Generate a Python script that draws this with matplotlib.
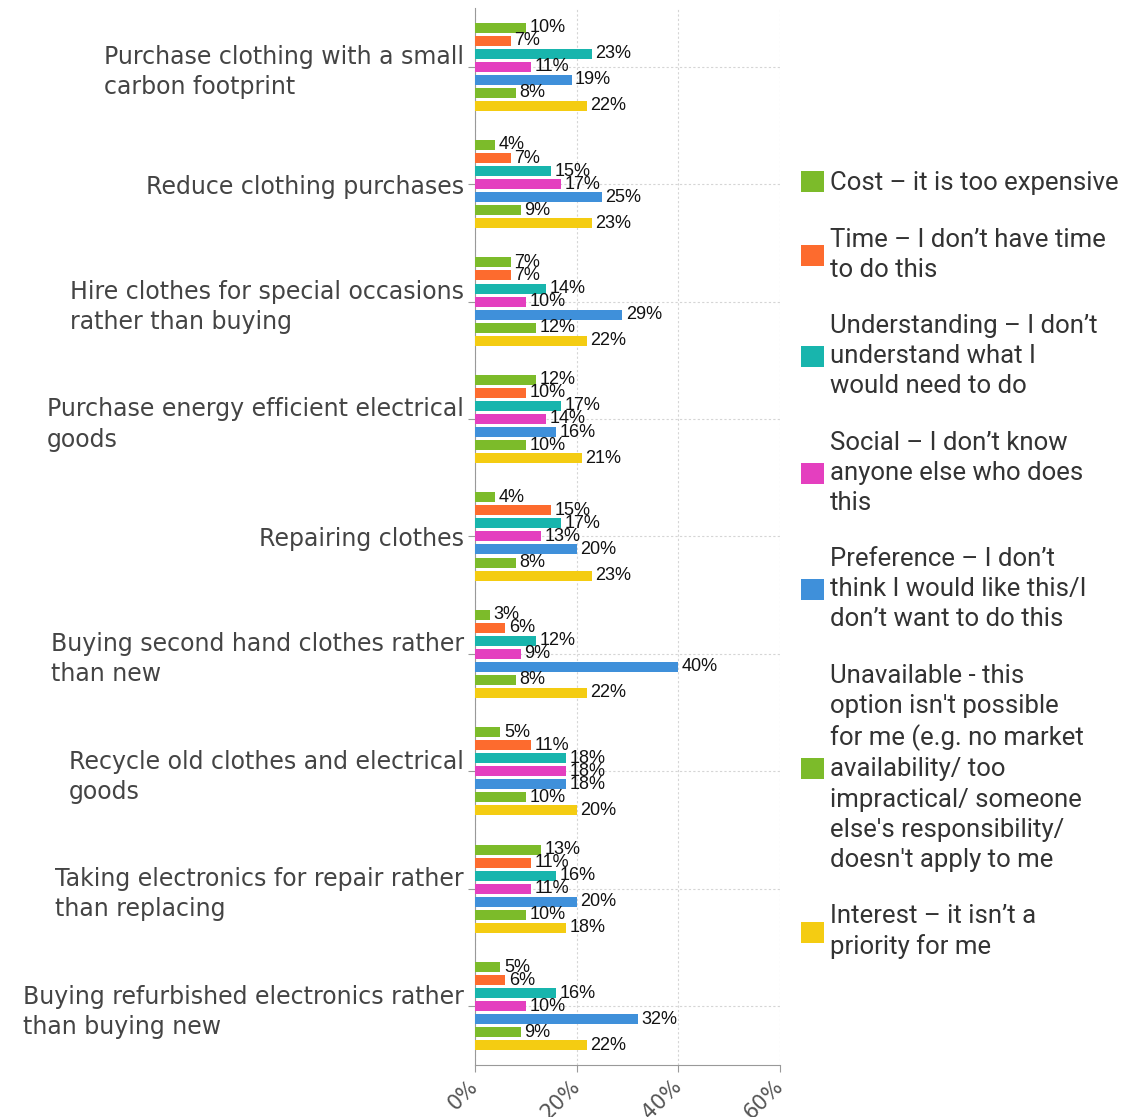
import numpy as np
import matplotlib.pyplot as plt

categories = [
    "Purchase clothing with a small\ncarbon footprint",
    "Reduce clothing purchases",
    "Hire clothes for special occasions\nrather than buying",
    "Purchase energy efficient electrical\ngoods",
    "Repairing clothes",
    "Buying second hand clothes rather\nthan new",
    "Recycle old clothes and electrical\ngoods",
    "Taking electronics for repair rather\nthan replacing",
    "Buying refurbished electronics rather\nthan buying new",
]

series_names = [
    "Cost \u2013 it is too expensive",
    "Time \u2013 I don\u2019t have time\nto do this",
    "Understanding \u2013 I don\u2019t\nunderstand what I\nwould need to do",
    "Social \u2013 I don\u2019t know\nanyone else who does\nthis",
    "Preference \u2013 I don\u2019t\nthink I would like this/I\ndon\u2019t want to do this",
    "Unavailable - this\noption isn't possible\nfor me (e.g. no market\navailability/ too\nimpractical/ someone\nelse's responsibility/\ndoesn't apply to me",
    "Interest \u2013 it isn\u2019t a\npriority for me",
]

cost = [10, 4, 7, 12, 4, 3, 5, 13, 5]
time_ = [7, 7, 7, 10, 15, 6, 11, 11, 6]
understanding = [23, 15, 14, 17, 17, 12, 18, 16, 16]
social = [11, 17, 10, 14, 13, 9, 18, 11, 10]
preference = [19, 25, 29, 16, 20, 40, 18, 20, 32]
unavailable = [8, 9, 12, 10, 8, 8, 10, 10, 9]
interest = [22, 23, 22, 21, 23, 22, 20, 18, 22]

values = [cost, time_, understanding, social, preference, unavailable, interest]
colors = ["#7cbb2a", "#fd6b2e", "#18b5ad", "#e43fbf", "#3f90da", "#7cbb2a", "#f4cc12"]

label_font = "DejaVu Sans"
legend_font = "Roboto"

fig = plt.figure(figsize=(11.25, 11.17), dpi=100)
ax = fig.add_axes([0.4222, 0.0466, 0.2711, 0.9463])

y = np.arange(len(categories))
pitch = 0.111
bar_h = 0.085

for j, (vals, col, name) in enumerate(zip(values, colors, series_names)):
    pos = y + (j - 3) * pitch
    ax.barh(pos, vals, height=bar_h, color=col, label=name, zorder=3)
    for yy, v in zip(pos, vals):
        ax.annotate(f"{v}%", (v, yy), xytext=(2.5, 0), textcoords="offset points",
                    ha="left", va="center", fontsize=13,
                    family="Liberation Sans", color="#111111", zorder=4)

ax.set_xlim(0, 60)
ax.set_ylim(len(categories) - 0.5, -0.5)
ax.set_xticks([0, 20, 40, 60])
ax.set_xticklabels(["0%", "20%", "40%", "60%"], rotation=45, ha="right", va="center",
                   rotation_mode="anchor", family=label_font, fontsize=15,
                   color="#555555")
ax.set_yticks(y)
ax.set_yticklabels(categories, family=label_font, fontsize=17, color="#444444",
                   multialignment="left", linespacing=1.32)

ax.grid(True, color="#d5d5d5", linestyle=(0, (2, 2)), linewidth=0.8, zorder=0)
for side in ["top", "right"]:
    ax.spines[side].set_visible(False)
for side in ["left", "bottom"]:
    ax.spines[side].set_color("#999999")
ax.tick_params(axis="y", length=5, color="#999999", pad=3)
ax.tick_params(axis="x", length=5, color="#999999", pad=8)

leg = fig.legend(loc="center left", bbox_to_anchor=(0.703, 0.494), frameon=False,
                 prop={"family": legend_font, "size": 18.5},
                 handlelength=0.88, handleheight=0.88, handletextpad=0.25,
                 labelspacing=1.26, borderaxespad=0)
for t in leg.get_texts():
    t.set_color("#333333")
    t.set_linespacing(1.32)

fig.savefig("out.png", dpi=100)
